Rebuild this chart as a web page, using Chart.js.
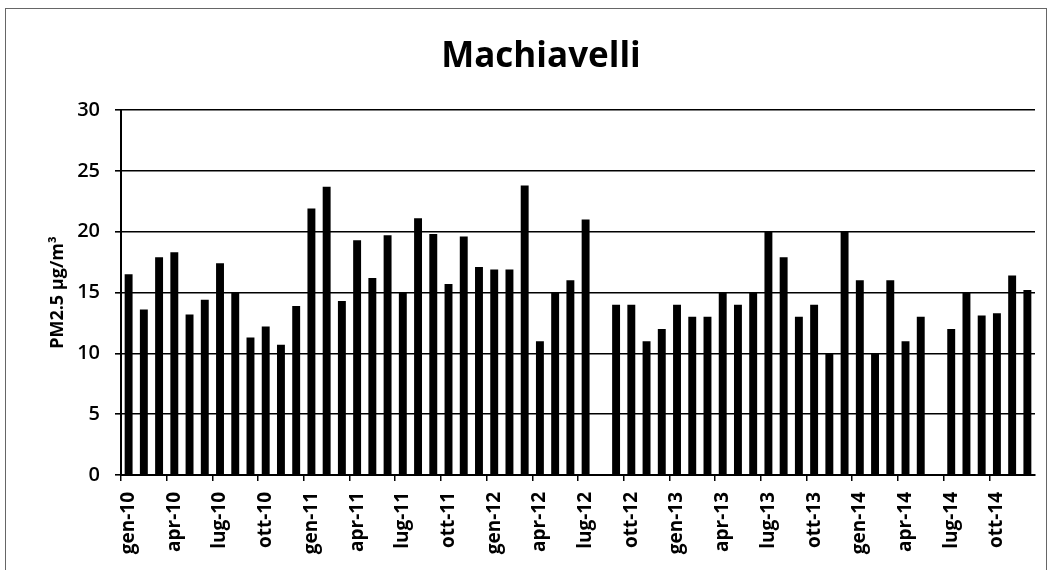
<!DOCTYPE html>
<html>
<head>
<meta charset="utf-8">
<script src="https://cdn.jsdelivr.net/npm/chart.js@4"></script>
<style>
  html, body { margin: 0; padding: 0; background: #fff; overflow: hidden; }
  #wrap { position: relative; width: 1051px; height: 570px; }
  #frame { position: absolute; left: 5px; top: 8px; width: 1040px; height: 600px; border: 1px solid #666; }
  canvas { position: absolute; left: 0; top: 0; }
</style>
</head>
<body>
<div id="wrap">
  <div id="frame"></div>
  <canvas id="chart" width="1051" height="570"></canvas>
</div>
<script>
// months gen-10 .. dic-14
var monthNames = ['gen', 'feb', 'mar', 'apr', 'mag', 'giu', 'lug', 'ago', 'set', 'ott', 'nov', 'dic'];
var years = ['10', '11', '12', '13', '14'];
var months = [];
years.forEach(function (y) {
    monthNames.forEach(function (m) { months.push(m + '-' + y); });
});

// PM2.5 monthly averages (µg/m3); null = no data
var pm2010 = [16.5, 13.6, 17.9, 18.3, 13.2, 14.4, 17.4, 15.0, 11.3, 12.2, 10.7, 13.9];
var pm2011 = [21.9, 23.7, 14.3, 19.3, 16.2, 19.7, 15.0, 21.1, 19.8, 15.7, 19.6, 17.1];
var pm2012 = [16.9, 16.9, 23.8, 11.0, 15.0, 16.0, 21.0, null, 14.0, 14.0, 11.0, 12.0];
var pm2013 = [14.0, 13.0, 13.0, 15.0, 14.0, 15.0, 20.0, 17.9, 13.0, 14.0, 10.0, 20.0];
var pm2014 = [16.0, 10.0, 16.0, 11.0, 13.0, null, 12.0, 15.0, 13.1, 13.3, 16.4, 15.2];
var pmValues = pm2010.concat(pm2011, pm2012, pm2013, pm2014);

var yTicks = [0, 5, 10, 15, 20, 25, 30];

var ctx = document.getElementById('chart').getContext('2d');
var chart = new Chart(ctx, {
    type: 'bar',
    data: {
        labels: months,
        datasets: [{
            label: 'PM2.5',
            data: pmValues,
            backgroundColor: '#000',
            borderWidth: 0,
            barPercentage: 0.52,
            categoryPercentage: 1.0
        }]
    },
    options: {
        responsive: false,
        animation: false,
        layout: { padding: { left: 47, right: 16, top: 0, bottom: 4 } },
        plugins: {
            legend: { display: false },
            tooltip: { enabled: false },
            title: {
                display: true,
                text: 'Machiavelli',
                color: '#000',
                font: { family: 'Open Sans', size: 35, weight: 'bold' },
                padding: { top: 36, bottom: 32 }
            }
        },
        scales: {
            x: {
                offset: true,
                grid: {
                    offset: true,
                    drawOnChartArea: false,
                    drawTicks: true,
                    tickLength: 6,
                    lineWidth: 1.5,
                    color: function (c) { return c.index % 3 === 0 ? '#000' : 'rgba(0,0,0,0)'; }
                },
                border: { display: true, color: '#000', width: 2 },
                ticks: {
                    autoSkip: false,
                    maxRotation: 90,
                    minRotation: 90,
                    padding: 11,
                    color: '#000',
                    font: { family: 'Open Sans', size: 19, weight: 'bold' },
                    callback: function (v, i) { return i % 3 === 0 ? months[i] : ''; }
                },
                afterFit: function (s) {
                    s.height = 91;
                    s.paddingRight = 0;
                    s.paddingLeft = 0;
                }
            },
            y: {
                min: 0,
                max: 30,
                afterBuildTicks: function (s) { s.ticks = yTicks.map(function (v) { return { value: v }; }); },
                grid: { color: '#000', lineWidth: 1.6, tickLength: 6 },
                border: { display: true, color: '#000', width: 2 },
                ticks: {
                    padding: 15,
                    color: '#000',
                    font: { family: 'Open Sans', size: 20, weight: '600' }
                },
                title: {
                    display: true,
                    text: 'PM2.5 µg/m³',
                    color: '#000',
                    font: { family: 'Open Sans', size: 18, weight: 'bold' },
                    padding: 0
                },
                afterFit: function (s) { s.width = 74; }
            }
        }
    }
});
</script>
</body>
</html>
